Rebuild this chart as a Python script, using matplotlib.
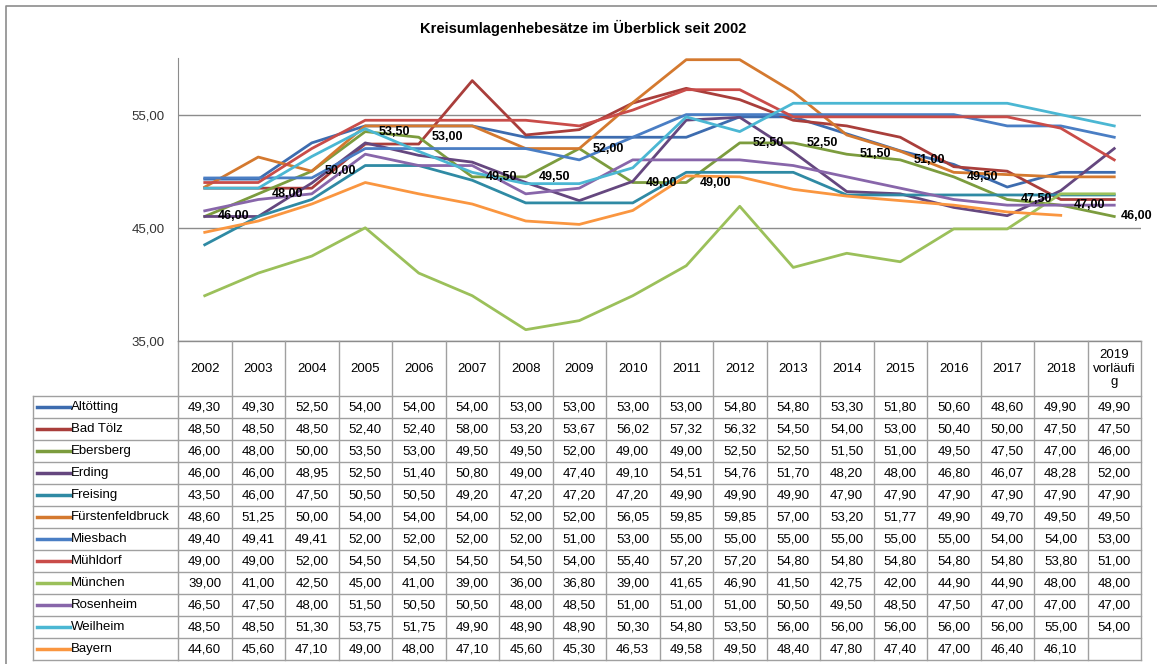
import matplotlib
matplotlib.use("Agg")
import matplotlib.pyplot as plt
import matplotlib.transforms as mtransforms
from matplotlib.lines import Line2D
import numpy as np

plt.rcParams['font.family'] = ['Liberation Sans', 'DejaVu Sans']

# ---- data ----
years = ["2002", "2003", "2004", "2005", "2006", "2007", "2008", "2009", "2010",
         "2011", "2012", "2013", "2014", "2015", "2016", "2017", "2018",
         "2019\nvorläufi\ng"]

names = ["Altötting", "Bad Tölz", "Ebersberg", "Erding", "Freising",
         "Fürstenfeldbruck", "Miesbach", "Mühldorf", "München", "Rosenheim",
         "Weilheim", "Bayern"]

altoetting = [49.30, 49.30, 52.50, 54.00, 54.00, 54.00, 53.00, 53.00, 53.00,
              53.00, 54.80, 54.80, 53.30, 51.80, 50.60, 48.60, 49.90, 49.90]
bad_toelz = [48.50, 48.50, 48.50, 52.40, 52.40, 58.00, 53.20, 53.67, 56.02,
             57.32, 56.32, 54.50, 54.00, 53.00, 50.40, 50.00, 47.50, 47.50]
ebersberg = [46.00, 48.00, 50.00, 53.50, 53.00, 49.50, 49.50, 52.00, 49.00,
             49.00, 52.50, 52.50, 51.50, 51.00, 49.50, 47.50, 47.00, 46.00]
erding = [46.00, 46.00, 48.95, 52.50, 51.40, 50.80, 49.00, 47.40, 49.10,
          54.51, 54.76, 51.70, 48.20, 48.00, 46.80, 46.07, 48.28, 52.00]
freising = [43.50, 46.00, 47.50, 50.50, 50.50, 49.20, 47.20, 47.20, 47.20,
            49.90, 49.90, 49.90, 47.90, 47.90, 47.90, 47.90, 47.90, 47.90]
fuerstenfeldbruck = [48.60, 51.25, 50.00, 54.00, 54.00, 54.00, 52.00, 52.00, 56.05,
                     59.85, 59.85, 57.00, 53.20, 51.77, 49.90, 49.70, 49.50, 49.50]
miesbach = [49.40, 49.41, 49.41, 52.00, 52.00, 52.00, 52.00, 51.00, 53.00,
            55.00, 55.00, 55.00, 55.00, 55.00, 55.00, 54.00, 54.00, 53.00]
muehldorf = [49.00, 49.00, 52.00, 54.50, 54.50, 54.50, 54.50, 54.00, 55.40,
             57.20, 57.20, 54.80, 54.80, 54.80, 54.80, 54.80, 53.80, 51.00]
muenchen = [39.00, 41.00, 42.50, 45.00, 41.00, 39.00, 36.00, 36.80, 39.00,
            41.65, 46.90, 41.50, 42.75, 42.00, 44.90, 44.90, 48.00, 48.00]
rosenheim = [46.50, 47.50, 48.00, 51.50, 50.50, 50.50, 48.00, 48.50, 51.00,
             51.00, 51.00, 50.50, 49.50, 48.50, 47.50, 47.00, 47.00, 47.00]
weilheim = [48.50, 48.50, 51.30, 53.75, 51.75, 49.90, 48.90, 48.90, 50.30,
            54.80, 53.50, 56.00, 56.00, 56.00, 56.00, 56.00, 55.00, 54.00]
bayern = [44.60, 45.60, 47.10, 49.00, 48.00, 47.10, 45.60, 45.30, 46.53,
          49.58, 49.50, 48.40, 47.80, 47.40, 47.00, 46.40, 46.10, None]

series = [altoetting, bad_toelz, ebersberg, erding, freising, fuerstenfeldbruck,
          miesbach, muehldorf, muenchen, rosenheim, weilheim, bayern]

colors = ['#3D6CAF', '#A93E3B', '#7C9C3E', '#65477F', '#2F8AA4', '#D4792F',
          '#4A7EC4', '#C94C49', '#9BC05A', '#8866AA', '#4BB7D3', '#FA9640']

labelled = "Ebersberg"

def fmt(v):
    return "" if v is None else f"{v:.2f}".replace(".", ",")

# ---- layout (pixels) ----
W, H = 1157, 664
fig = plt.figure(figsize=(W / 100, H / 100), dpi=100)
fig.patch.set_facecolor('white')

left, right, top, bottom = 178, 1141, 58, 341
row_top, row_h = 396, 22
grid_col = '#8C8C8C'
tab_col = '#A0A0A0'

ax = fig.add_axes([left / W, 1 - bottom / H, (right - left) / W, (bottom - top) / H])
x = np.arange(len(years))
for name, vals, col in zip(names, series, colors):
    v = np.array([np.nan if a is None else a for a in vals], dtype=float)
    ax.plot(x, v, color=col, lw=2.0, zorder=3)
    if name == labelled:
        for xi, yi in zip(x, vals):
            # last label is pulled in so it stays inside the chart area
            dx = 5 if xi == x[-1] else 9.5
            ax.annotate(fmt(yi), (xi, yi), xytext=(dx, 0), textcoords='offset points',
                        ha='left', va='center', fontsize=9, fontweight='bold',
                        color='black', zorder=5, annotation_clip=False)

ax.set_xlim(-0.5, len(years) - 0.5)
ax.set_ylim(35, 60)
ax.set_yticks([35, 45, 55])
ax.set_yticklabels(["35,00", "45,00", "55,00"])
ax.set_xticks([])
ax.tick_params(axis='y', length=0, pad=9.5, labelsize=9.5, labelcolor='#333333')
ax.grid(axis='y', color=grid_col, lw=1.0)
ax.set_axisbelow(True)
for s in ['top', 'right', 'bottom']:
    ax.spines[s].set_visible(False)
ax.spines['left'].set_color(grid_col)
ax.patch.set_alpha(0)

# ---- data table under the chart ----
tab = fig.add_axes([0, 0, 1, 1], zorder=-1)
tab.set_xlim(0, W)
tab.set_ylim(H, 0)
tab.axis('off')
tr = mtransforms.blended_transform_factory(ax.transData, tab.transData)

n = len(years)
bounds = np.arange(n + 1) - 0.5
table_bottom = row_top + row_h * len(names)

# header row
tab.plot([-0.5, n - 0.5], [bottom, bottom], color=grid_col, lw=1, transform=tr)
for b in bounds:
    tab.plot([b, b], [bottom, table_bottom], color=tab_col, lw=1, transform=tr)
for i, yr in enumerate(years):
    tab.text(i, (bottom + row_top) / 2, yr, transform=tr, ha='center', va='center',
             fontsize=9.5, color='black', linespacing=1.15)

# body rows
tab.plot([33, 33], [row_top, table_bottom], color=tab_col, lw=1)
for r in range(len(names) + 1):
    yy = row_top + r * row_h
    tab.plot([33, left], [yy, yy], color=tab_col, lw=1)
    tab.plot([-0.5, n - 0.5], [yy, yy], color=tab_col, lw=1, transform=tr)

for r, (name, vals, col) in enumerate(zip(names, series, colors)):
    yc = row_top + r * row_h + row_h / 2
    tab.add_line(Line2D([37, 70], [yc, yc], color=col, lw=2.5))
    tab.text(71, yc, name, ha='left', va='center', fontsize=9.5, color='black')
    for i, v in enumerate(vals):
        tab.text(i, yc, fmt(v), transform=tr, ha='center', va='center',
                 fontsize=9.5, color='black')

# chart area border (left/top) and title
tab.plot([6, 6, W], [H, 6, 6], color='#8C8C8C', lw=1.2)
fig.text(583 / W, 1 - 28 / H, "Kreisumlagenhebesätze im Überblick seit 2002",
         ha='center', va='center', fontsize=10.5, fontweight='bold')

fig.savefig("out.png", dpi=100)
